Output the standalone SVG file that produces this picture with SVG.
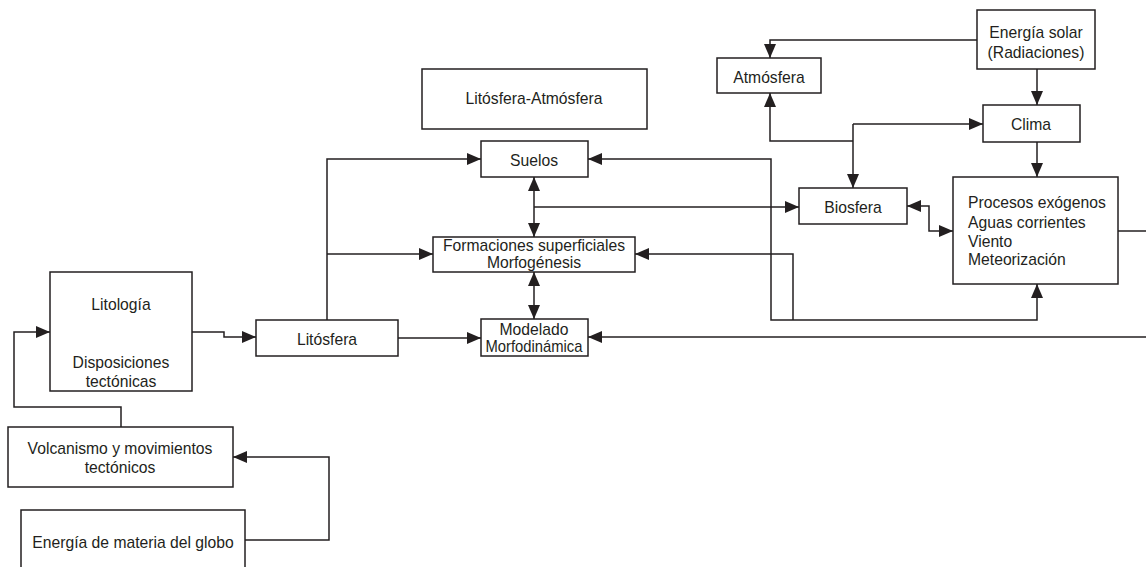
<svg xmlns="http://www.w3.org/2000/svg" width="1146" height="567" viewBox="0 0 1146 567">
<style>
.box{fill:#fff;stroke:#231f20;stroke-width:1.5}
.t{font-family:"Liberation Sans",Arial,sans-serif;font-size:15.7px;fill:#231f20;text-anchor:middle;dominant-baseline:central}
.tl{text-anchor:start}
.c{fill:none;stroke:#231f20;stroke-width:1.5}
.e{marker-end:url(#ah)}
.s{marker-start:url(#ah)}
</style>
<defs>
<marker id="ah" viewBox="0 0 14 12" refX="14" refY="6" markerWidth="14" markerHeight="12" orient="auto-start-reverse" markerUnits="userSpaceOnUse"><path d="M0,0 L14,6 L0,12 z" fill="#231f20"/></marker>
</defs>
<rect width="1146" height="567" fill="#fff"/>
<g id="connectors">
<path class="c e" d="M192,332 H224 V337 H256"/>
<path class="c e" d="M121,427 V407 H14 V332 H50"/>
<path class="c e" d="M245,540 H329 V457 H233"/>
<path class="c e" d="M327,320 V159 H481"/>
<path class="c e" d="M327,254 H433"/>
<path class="c e" d="M398,338 H481"/>
<path class="c s e" d="M534,177 V237"/>
<path class="c s e" d="M534,272 V319"/>
<path class="c e" d="M534,207 H799"/>
<path class="c e" d="M977,40 H770 V58"/>
<path class="c e" d="M1037,69 V105"/>
<path class="c e" d="M1037,142 V177"/>
<path class="c s" d="M770,93 V141 H853"/>
<path class="c e" d="M853,124 V188"/>
<path class="c e" d="M853,124 H983"/>
<path class="c s e" d="M907,206 H929 V231 H953"/>
<path class="c s e" d="M588,159 H771 V320 H1037 V284"/>
<path class="c s" d="M635,254 H793 V320"/>
<path class="c" d="M1118,231 H1146"/>
<path class="c e" d="M1146,337 H588"/>
</g>
<g id="litologia"><rect class="box" x="50" y="272" width="142" height="119"/><text class="t" x="121" y="304">Litología</text><text class="t" x="121" y="362">Disposiciones</text><text class="t" x="121" y="381">tectónicas</text></g>
<g id="litosfera"><rect class="box" x="256" y="320" width="142" height="36"/><text class="t" x="327" y="339">Litósfera</text></g>
<g id="volcanismo"><rect class="box" x="8" y="427" width="225" height="60"/><text class="t" x="120" y="448">Volcanismo y movimientos</text><text class="t" x="120" y="467">tectónicos</text></g>
<g id="energia-materia"><rect class="box" x="21" y="510" width="224" height="80"/><text class="t" x="133" y="542">Energía de materia del globo</text></g>
<g id="lito-atmos"><rect class="box" x="422" y="69" width="225" height="60"/><text class="t" x="534" y="98">Litósfera-Atmósfera</text></g>
<g id="suelos"><rect class="box" x="481" y="141" width="107" height="36"/><text class="t" x="534" y="160">Suelos</text></g>
<g id="formaciones"><rect class="box" x="433" y="237" width="202" height="35"/><text class="t" x="534" y="245">Formaciones superficiales</text><text class="t" x="534" y="262">Morfogénesis</text></g>
<g id="modelado"><rect class="box" x="481" y="319" width="107" height="37"/><text class="t" x="534" y="329">Modelado</text><text class="t" x="534" y="346" textLength="97" lengthAdjust="spacingAndGlyphs">Morfodinámica</text></g>
<g id="atmosfera"><rect class="box" x="717" y="58" width="104" height="35"/><text class="t" x="769" y="77">Atmósfera</text></g>
<g id="energia-solar"><rect class="box" x="977" y="10" width="118" height="59"/><text class="t" x="1036" y="32">Energía solar</text><text class="t" x="1036" y="52">(Radiaciones)</text></g>
<g id="clima"><rect class="box" x="983" y="105" width="97" height="37"/><text class="t" x="1031" y="124">Clima</text></g>
<g id="biosfera"><rect class="box" x="799" y="188" width="108" height="36"/><text class="t" x="853" y="207">Biosfera</text></g>
<g id="procesos"><rect class="box" x="953" y="177" width="165" height="107"/><text class="t tl" x="968" y="202">Procesos exógenos</text><text class="t tl" x="968" y="222">Aguas corrientes</text><text class="t tl" x="968" y="241">Viento</text><text class="t tl" x="968" y="259">Meteorización</text></g>
</svg>
